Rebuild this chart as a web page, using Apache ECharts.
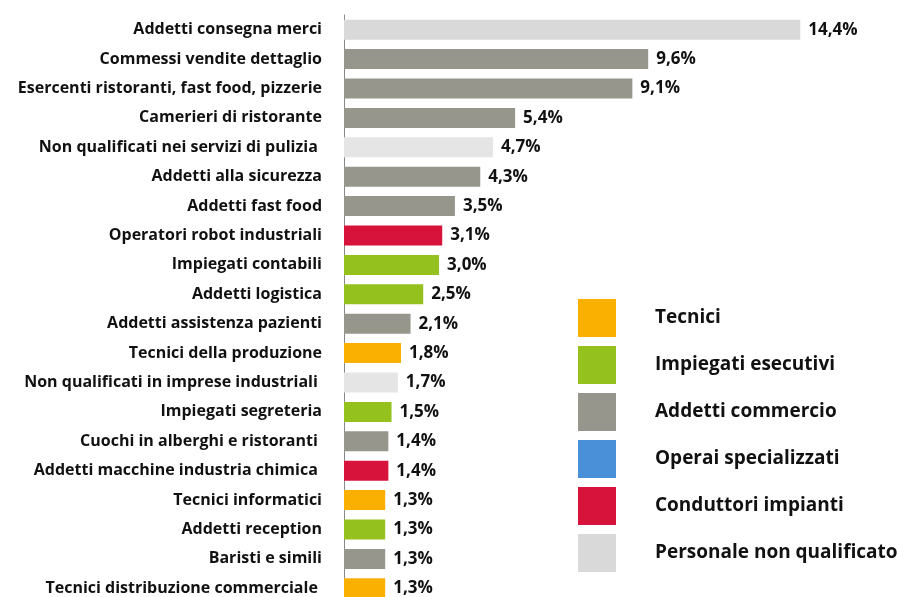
<!DOCTYPE html>
<html>
<head>
<meta charset="utf-8">
<script src="https://cdn.jsdelivr.net/npm/echarts@6/dist/echarts.min.js"></script>
<style>
  html, body { margin: 0; padding: 0; background: #fff; overflow: hidden; }
  /* il grafico originale è tagliato in basso: canvas un po' più alto della finestra */
  #chart { width: 897px; height: 603px; }
</style>
</head>
<body>
<div id="chart"></div>
<script>
// categorie, dall'alto verso il basso
const categories = [
  "Addetti consegna merci",
  "Commessi vendite dettaglio",
  "Esercenti ristoranti, fast food, pizzerie",
  "Camerieri di ristorante",
  "Non qualificati nei servizi di pulizia ",
  "Addetti alla sicurezza",
  "Addetti fast food",
  "Operatori robot industriali",
  "Impiegati contabili",
  "Addetti logistica",
  "Addetti assistenza pazienti",
  "Tecnici della produzione",
  "Non qualificati in imprese industriali ",
  "Impiegati segreteria",
  "Cuochi in alberghi e ristoranti ",
  "Addetti macchine industria chimica ",
  "Tecnici informatici",
  "Addetti reception",
  "Baristi e simili",
  "Tecnici distribuzione commerciale "
];
const values = [14.4, 9.6, 9.1, 5.4, 4.7, 4.3, 3.5, 3.1, 3.0, 2.5, 2.1, 1.8, 1.7, 1.5, 1.4, 1.4, 1.3, 1.3, 1.3, 1.3];
// gruppo professionale di ogni categoria
const groupOf = ["np", "ac", "ac", "ac", "np", "ac", "ac", "ci", "ie", "ie", "ac", "te", "np", "ie", "ac", "ci", "te", "ie", "ac", "te"];

const groupKeys = ["te", "ie", "ac", "os", "ci", "np"];
const groupNames = ["Tecnici", "Impiegati esecutivi", "Addetti commercio", "Operai specializzati", "Conduttori impianti", "Personale non qualificato"];
const groupColors = ["#f9b000", "#95c11f", "#97968c", "#4a90d9", "#d7123b", "#d9d9d9"];

// nell'originale due barre "non qualificati" sono un po' più chiare
const lighterColor = "#e5e5e5";
const lighterRows = [4, 12];

const FONT = "Open Sans";

const chart = echarts.init(document.getElementById("chart"));

const fmt = (v) => v.toFixed(1).replace(".", ",") + "%";

const series = groupKeys.map((key, gi) => ({
  name: groupNames[gi],
  type: "bar",
  stack: "tot",
  barWidth: 20,
  itemStyle: { color: groupColors[gi] },
  label: {
    show: true,
    position: "right",
    distance: 8,
    fontFamily: FONT,
    fontWeight: "bold",
    fontSize: 17,
    color: "#111",
    formatter: (p) => fmt(p.value)
  },
  data: values.map((v, i) => {
    if (groupOf[i] !== key) return "-";
    if (lighterRows.includes(i)) return { value: v, itemStyle: { color: lighterColor } };
    return v;
  })
}));

chart.setOption({
  animation: false,
  grid: { left: 344, top: 15, bottom: 0, right: 46, containLabel: false },
  xAxis: {
    type: "value",
    min: 0,
    max: 16,
    show: false
  },
  yAxis: {
    type: "category",
    inverse: true,
    data: categories,
    axisLine: { show: true, lineStyle: { color: "#888", width: 1 } },
    axisTick: { show: false },
    axisLabel: {
      margin: 22,
      fontFamily: FONT,
      fontWeight: "bold",
      fontSize: 16,
      color: "#111"
    }
  },
  legend: {
    orient: "vertical",
    left: 573,
    top: 294,
    itemWidth: 38,
    itemHeight: 38,
    itemGap: 9,
    icon: "rect",
    data: groupNames,
    textStyle: {
      fontFamily: FONT,
      fontWeight: "bold",
      fontSize: 19,
      color: "#111",
      padding: [0, 0, 0, 34]
    }
  },
  series: series
});
</script>
</body>
</html>
